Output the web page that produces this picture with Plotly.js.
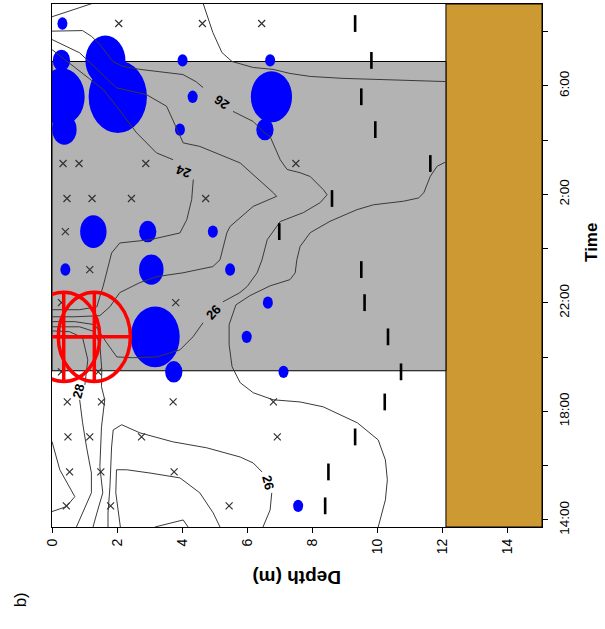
<!DOCTYPE html>
<html>
<head>
<meta charset="utf-8">
<script src="https://cdn.plot.ly/plotly-3.0.1.min.js"></script>
<style>
  html, body { margin: 0; padding: 0; background: #ffffff; }
  #chart { width: 605px; height: 629px; }
</style>
</head>
<body>
<div id="chart"></div>
<script>
// Time is in hours from midnight of the first day; values above 24 are the next morning.
const timeTickVals = [14, 16, 18, 20, 22, 24, 26, 28, 30, 32];
const timeTickText = ['14:00', '', '18:00', '', '22:00', '', '2:00', '', '6:00', ''];
const depthTickVals = [0, 2, 4, 6, 8, 10, 12, 14];

// Night period (shaded) and sea bed
const nightStart = 19.5;
const nightEnd = 30.9;
const bottomDepth = 12.1;
const maxDepth = 15.05;

// Sampling points without catch (x)
const crossDepth = [2.05, 4.62, 6.44,
  0.34, 0.83, 2.88, 7.49,
  0.46, 1.23, 2.44, 4.72,
  0.41,
  1.16,
  0.29, 3.80,
  0.29, 1.42,
  0.47, 1.52, 3.72, 6.80,
  0.49, 1.16, 2.75, 6.92,
  0.54, 1.50, 3.75,
  0.44, 1.80, 5.44];
const crossTime = [32.30, 32.30, 32.30,
  27.14, 27.14, 27.14, 27.14,
  25.85, 25.85, 25.85, 25.85,
  24.63,
  23.23,
  22.01, 22.01,
  19.46, 19.46,
  18.35, 18.35, 18.35, 18.35,
  17.06, 17.06, 17.06, 17.06,
  15.77, 15.77, 15.77,
  14.52, 14.52, 14.52];

// Catches (blue bubbles)
const blueDepth = [0.32, 0.29, 0.30, 0.38, 1.64, 2.02, 4.01, 4.32, 3.93, 6.70, 6.74, 6.54,
  1.27, 2.94, 4.94, 3.05, 0.41, 5.47, 3.17, 3.74, 6.63, 5.98, 7.11, 7.56];
const blueTime = [32.30, 30.94, 29.60, 28.39, 30.94, 29.60, 30.94, 29.60, 28.39, 30.94, 29.60, 28.39,
  24.63, 24.63, 24.63, 23.23, 23.23, 23.23, 20.75, 19.46, 22.01, 20.75, 19.46, 14.52];
const blueCount = [1, 3, 21, 6, 16, 34, 1, 1, 1, 1, 17, 3,
  7, 3, 1, 6, 1, 1, 24, 3, 1, 1, 1, 1];

// Catches of the second species (red)
const redDepth = [0.36, 1.30];
const redTime = [20.75, 20.75];
const redCount = [52, 52];

// Depth of the scattering layer at each cast
const barTime = [32.30, 30.94, 29.60, 28.39, 27.14, 25.85, 24.63, 23.23, 22.01, 20.75, 19.46, 18.35, 17.06, 15.77, 14.52];
const barDepth = [9.31, 9.81, 9.50, 9.93, 11.62, 8.60, 6.98, 9.50, 9.60, 10.32, 10.72, 10.22, 9.31, 8.49, 8.39];

// Isotherms (depth m, time h); null splits a line where its label sits
const iso1Depth = [0, 1.26];
const iso1Time = [32.55, 33.05];

const iso2Depth = [0, 0.94, 1.22, 1.47, 1.87, 2.18, 2.70, 4.02, 4.42, 4.64, null, 5.56, 6.18, 6.48, 6.70, 7.01, 7.22, 7.62, 7.93, 8.33, 8.45, 8.24, 7.72, 7.31, 7.01, 6.61, 6.45, 6.30, 5.99, 5.77, 5.25, null, 4.64, 4.33, 3.93, 3.22, 2.48, 1.99, 1.68, 1.31, 0.70, 0];
const iso2Time = [32.02, 32.04, 31.82, 31.53, 30.90, 30.72, 30.61, 30.42, 30.16, 29.94, null, 29.06, 28.69, 28.32, 28.13, 27.28, 26.92, 26.80, 26.66, 26.18, 25.99, 25.70, 25.33, 25.14, 25.00, 24.33, 23.59, 23.11, 22.60, 22.38, 22.04, null, 21.27, 20.75, 20.27, 20.01, 19.98, 20.01, 20.53, 21.20, 21.31, 21.31];

const iso3Depth = [4.64, 4.94, 5.22, 5.53, 6.18, 6.79, 7.31, 7.93, 8.91, 10.02, 12.11];
const iso3Time = [33.05, 31.97, 31.23, 30.90, 30.68, 30.61, 30.46, 30.35, 30.28, 30.24, 30.16];

const iso4Depth = [0, 0.85, 1.98, 2.90, 3.52, 3.83, 4.03, 4.54, 5.78, 6.80, 6.90, 6.18, 5.47, 5.37, 5.16, 4.94, 4.02, 3.22, 2.70, 2.08, 1.78, 1.47, 0.70, 0];
const iso4Time = [31.71, 31.22, 29.93, 29.68, 29.25, 28.39, 27.90, 27.77, 27.16, 26.06, 25.93, 25.56, 24.82, 24.58, 23.59, 23.34, 23.11, 22.97, 22.75, 22.38, 21.86, 21.53, 21.49, 21.49];

const iso5Depth = [0, 0.65, 1.57, 1.98, 2.60, 3.21, 3.72, null, 4.34, 4.29, 4.14, 3.93, 3.01, 2.08, 1.83, 1.78, 1.57, 1.47, 1.38, 0.85, 0];
const iso5Time = [31.34, 30.73, 29.87, 29.25, 28.27, 27.53, 27.28, null, 26.55, 25.81, 25.07, 24.58, 24.33, 24.21, 23.84, 23.59, 22.61, 22.24, 21.86, 21.75, 21.75];

const iso6Depth = [12.13, 11.83, 11.62, 11.42, 11.26, 10.80, 9.88, 9.37, 8.54, 7.93, 7.62, 7.52, 7.47, 7.31, 6.70, 6.08, 5.65, 5.44, 5.44, 5.53, 5.78, 6.18, 6.79, 7.62, 8.33, 9.38, 10.02, 10.24, 10.30, 10.24, 10.02];
const iso6Time = [27.22, 27.04, 26.67, 26.06, 25.87, 25.75, 25.62, 25.44, 25.01, 24.59, 24.08, 23.59, 23.11, 22.86, 22.63, 22.27, 21.93, 21.20, 20.46, 19.65, 19.06, 18.69, 18.43, 18.35, 18.17, 17.58, 16.95, 16.21, 15.48, 14.74, 13.74];

const iso7Depth = [3.16, 4.03, 4.18];
const iso7Time = [13.74, 14.00, 13.74];

const iso8Depth = [1.72, 1.72, 1.78, 1.83, 1.88, 2.14, 2.70, 3.71, 4.75, 5.78, 6.18, 6.45, null, 6.75, 6.70, 6.48];
const iso8Time = [13.74, 14.26, 15.22, 16.69, 17.32, 17.51, 17.21, 16.88, 16.66, 16.32, 16.10, 15.77, null, 15.00, 14.37, 13.74];

const iso9Depth = [2.10, 2.03, 1.96, 1.98, 2.29, 3.01, 3.93, 4.54, 4.95, 5.16];
const iso9Time = [13.74, 14.37, 15.00, 15.85, 15.85, 15.73, 15.55, 15.00, 14.26, 13.74];

const iso10Depth = [0, 0.85, 1.31, 1.47, 1.53, 1.52, 1.62, 1.52, 1.47, 1.56, 1.38, 1.26];
const iso10Time = [21.12, 21.12, 20.94, 20.46, 19.54, 18.91, 18.43, 17.43, 15.96, 15.00, 14.26, 13.74];

const iso11Depth = [0, 0.54, 0.94, 1.10, 1.01, null, 0.85, 0.94, 1.06, 1.21, 1.21, 0.94, 0.75];
const iso11Time = [20.97, 20.94, 20.72, 19.90, 18.98, null, 18.43, 17.58, 16.69, 15.73, 15.00, 14.26, 13.74];

const iso12Depth = [0, 0.24, 0.70, 0.44, 0];
const iso12Time = [16.89, 15.85, 14.86, 14.49, 14.31];

// Isotherm labels
const labelText = ['26', '24', '26', '28', '26'];
const labelDepth = [5.22, 4.02, 4.94, 0.80, 6.62];
const labelTime = [29.39, 26.85, 21.66, 18.75, 15.40];
const labelAngle = [-145, -160, -47, -75, 75];

const isoDepths = [iso1Depth, iso2Depth, iso3Depth, iso4Depth, iso5Depth, iso6Depth, iso7Depth, iso8Depth, iso9Depth, iso10Depth, iso11Depth, iso12Depth];
const isoTimes = [iso1Time, iso2Time, iso3Time, iso4Time, iso5Time, iso6Time, iso7Time, iso8Time, iso9Time, iso10Time, iso11Time, iso12Time];

const FONT = 'Liberation Sans, Arial, Helvetica, sans-serif';
const ELLIPSE_STRETCH = 1.24;   // bubbles are drawn slightly taller than wide
const bubbleDiameter = c => 10 * Math.sqrt(c);

const traces = [];
isoDepths.forEach((d, i) => {
  traces.push({
    type: 'scatter', mode: 'lines', x: d, y: isoTimes[i],
    line: { color: '#3a3a3a', width: 1 }, connectgaps: false,
    hoverinfo: 'skip', showlegend: false
  });
});
traces.push({
  type: 'scatter', mode: 'markers', x: crossDepth, y: crossTime,
  marker: { symbol: 'x-thin-open', size: 7, color: '#333333', line: { width: 1.2, color: '#333333' } },
  hoverinfo: 'skip', showlegend: false
});
traces.push({
  type: 'scatter', mode: 'markers', x: barDepth, y: barTime,
  marker: { symbol: 'line-ns-open', size: 12, color: '#000000', line: { width: 2.6, color: '#000000' } },
  hoverinfo: 'skip', showlegend: false
});

const shapes = [
  { type: 'rect', xref: 'x', yref: 'y', x0: 0, x1: bottomDepth, y0: nightStart, y1: nightEnd,
    fillcolor: '#b3b3b3', line: { color: '#000000', width: 1 }, layer: 'below' },
  { type: 'rect', xref: 'x', yref: 'paper', x0: bottomDepth, x1: maxDepth, y0: 0, y1: 1,
    fillcolor: '#cc9933', line: { color: '#000000', width: 1 }, layer: 'below' }
];
blueDepth.forEach((d, i) => {
  const rx = bubbleDiameter(blueCount[i]) / 2;
  const ry = rx * ELLIPSE_STRETCH;
  shapes.push({
    type: 'circle', xref: 'x', yref: 'y', xsizemode: 'pixel', ysizemode: 'pixel',
    xanchor: d, yanchor: blueTime[i], x0: -rx, x1: rx, y0: -ry, y1: ry,
    fillcolor: '#0000ff', line: { width: 0 }, layer: 'below'
  });
});
redDepth.forEach((d, i) => {
  const rx = bubbleDiameter(redCount[i]) / 2;
  const ry = rx * ELLIPSE_STRETCH;
  const base = { xref: 'x', yref: 'y', xsizemode: 'pixel', ysizemode: 'pixel',
    xanchor: d, yanchor: redTime[i], line: { color: '#ff0000', width: 3.5 }, layer: 'above' };
  shapes.push(Object.assign({ type: 'circle', x0: -rx, x1: rx, y0: -ry, y1: ry }, base));
  shapes.push(Object.assign({ type: 'line', x0: -rx, x1: rx, y0: 0, y1: 0 }, base));
  shapes.push(Object.assign({ type: 'line', x0: 0, x1: 0, y0: -ry, y1: ry }, base));
});

const annotations = labelText.map((t, i) => ({
  x: labelDepth[i], y: labelTime[i], xref: 'x', yref: 'y', text: '<b>' + t + '</b>',
  showarrow: false, textangle: labelAngle[i], font: { family: FONT, size: 13, color: '#000000' }
}));
annotations.push(
  { xref: 'paper', yref: 'paper', x: 1.102, y: 0.545, xanchor: 'center', yanchor: 'middle',
    text: '<b>Time</b>', showarrow: false,
    textangle: -90, font: { family: FONT, size: 17, color: '#000000' } },
  { xref: 'paper', yref: 'paper', x: 0.50, y: -0.097, xanchor: 'center', yanchor: 'middle',
    text: '<b>Depth (m)</b>', showarrow: false,
    textangle: 180, font: { family: FONT, size: 19, color: '#000000' } },
  { xref: 'paper', yref: 'paper', x: -0.065, y: -0.14, xanchor: 'center', yanchor: 'middle',
    text: 'b)', showarrow: false,
    textangle: -90, font: { family: FONT, size: 17, color: '#000000' } }
);

const layout = {
  width: 605, height: 629,
  margin: { l: 52, r: 63, t: 4, b: 102, pad: 0 },
  paper_bgcolor: '#ffffff', plot_bgcolor: '#ffffff',
  showlegend: false,
  font: { family: FONT, size: 13.5, color: '#000000' },
  xaxis: {
    range: [0, maxDepth], tickvals: depthTickVals, tickangle: -90,
    ticks: 'outside', ticklen: 5, tickcolor: '#000000', showgrid: false, zeroline: false,
    showline: true, linecolor: '#000000', linewidth: 1, mirror: true,
    tickfont: { family: FONT, size: 14, color: '#000000' }
  },
  yaxis: {
    range: [13.74, 33.02], side: 'right', tickvals: timeTickVals, ticktext: timeTickText, tickangle: -90,
    ticks: 'outside', ticklen: 5, tickcolor: '#000000', showgrid: false, zeroline: false,
    showline: true, linecolor: '#000000', linewidth: 1, mirror: true, ticklabelstandoff: 5,
    tickfont: { family: FONT, size: 13.5, color: '#000000' }
  },
  shapes: shapes,
  annotations: annotations
};

Plotly.newPlot('chart', traces, layout, { displayModeBar: false, staticPlot: true });
</script>
</body>
</html>
